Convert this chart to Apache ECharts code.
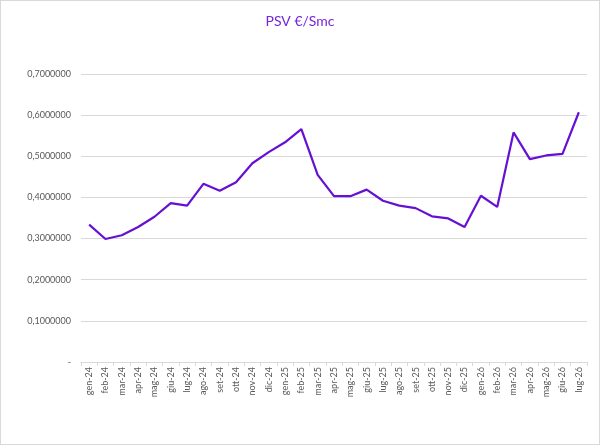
<!DOCTYPE html>
<html>
<head>
<meta charset="utf-8">
<script src="https://cdn.jsdelivr.net/npm/echarts@6/dist/echarts.min.js"></script>
<style>
    html, body { margin: 0; padding: 0; background: #fff; }
    #psvChart { width: 598px; height: 443px; border: 1px solid #d9d9d9; }
</style>
</head>
<body>
<div id="psvChart"></div>
<script>
// mesi (gen-24 .. lug-26)
var months = ['gen-24', 'feb-24', 'mar-24', 'apr-24', 'mag-24', 'giu-24', 'lug-24', 'ago-24', 'set-24', 'ott-24', 'nov-24', 'dic-24',
    'gen-25', 'feb-25', 'mar-25', 'apr-25', 'mag-25', 'giu-25', 'lug-25', 'ago-25', 'set-25', 'ott-25', 'nov-25', 'dic-25',
    'gen-26', 'feb-26', 'mar-26', 'apr-26', 'mag-26', 'giu-26', 'lug-26'];
// PSV €/Smc
var psvValues = [0.334, 0.299, 0.308, 0.328, 0.353, 0.386, 0.380, 0.433, 0.416, 0.437, 0.483, 0.510,
    0.534, 0.566, 0.455, 0.403, 0.403, 0.419, 0.392, 0.380, 0.374, 0.354, 0.349, 0.328,
    0.404, 0.377, 0.558, 0.493, 0.502, 0.506, 0.607];
var yTicks = [0, 0.1, 0.2, 0.3, 0.4, 0.5, 0.6, 0.7];

initPsvChart();

function fmtTick(v) {
    if (Math.abs(v) < 1e-9) return '-';
    return v.toFixed(7).replace('.', ',');
}

function initPsvChart() {
    var chart = echarts.init(document.getElementById('psvChart'));
    var option = {
        animation: false,
        textStyle: { fontFamily: 'Lato, "Open Sans", sans-serif' },
        title: {
            text: 'PSV €/Smc',
            left: 'center',
            top: 8,
            textStyle: {
                color: '#7526dc',
                fontSize: 14,
                fontWeight: 'normal',
                fontFamily: 'Lato, "Open Sans", sans-serif'
            }
        },
        grid: {
            left: 80,
            right: 12,
            top: 73,
            bottom: 82,
            containLabel: false
        },
        xAxis: {
            type: 'category',
            boundaryGap: true,
            data: months,
            axisLine: { lineStyle: { color: '#d9d9d9' } },
            axisTick: { show: true, length: 4, lineStyle: { color: '#d9d9d9' } },
            axisLabel: {
                interval: 0,
                rotate: 90,
                color: '#595959',
                fontSize: 9,
                margin: 5
            }
        },
        yAxis: {
            type: 'value',
            min: yTicks[0],
            max: yTicks[yTicks.length - 1],
            interval: 0.1,
            axisLine: { show: false },
            axisTick: { show: false },
            splitLine: { lineStyle: { color: '#d9d9d9' } },
            axisLabel: {
                color: '#595959',
                fontSize: 9,
                margin: 10,
                formatter: fmtTick
            }
        },
        series: [{
            name: 'PSV €/Smc',
            type: 'line',
            data: psvValues,
            symbol: 'none',
            lineStyle: { color: '#6610d4', width: 2.2 },
            itemStyle: { color: '#6610d4' }
        }]
    };
    chart.setOption(option);
}
</script>
</body>
</html>
